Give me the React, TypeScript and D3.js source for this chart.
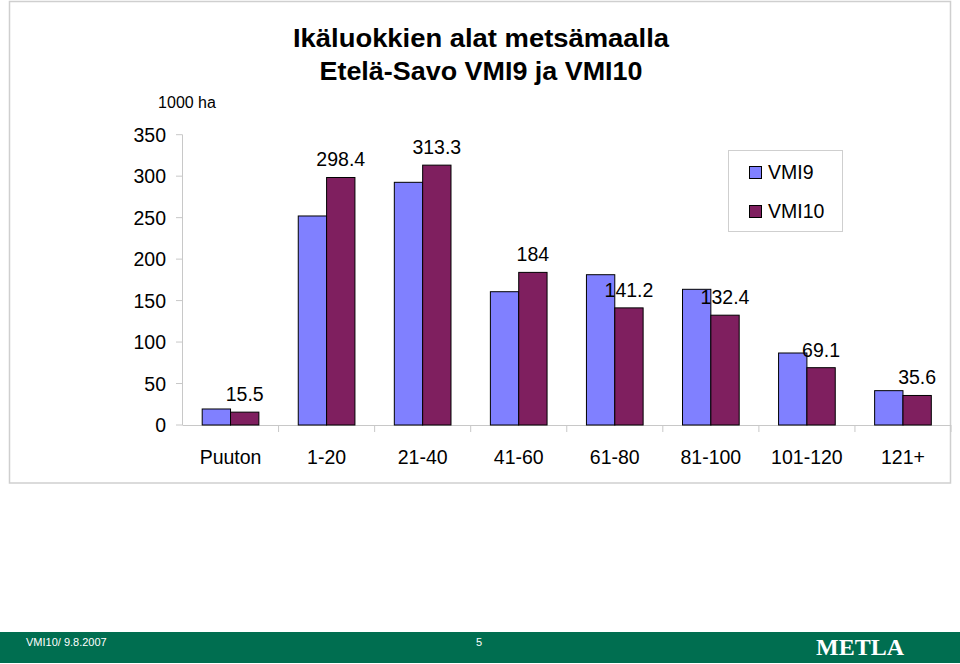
import React from "react";
import * as d3 from "d3";

const categories = ["Puuton", "1-20", "21-40", "41-60", "61-80", "81-100", "101-120", "121+"];
const vmi9 = [19.3, 252, 292.6, 160.7, 181.2, 163.6, 86.8, 41.4];
const vmi10 = [15.5, 298.4, 313.3, 184, 141.2, 132.4, 69.1, 35.6];
const seriesNames = ["VMI9", "VMI10"];
const seriesColors = ["#8080ff", "#7f1f5f"];
const yTicks = [0, 50, 100, 150, 200, 250, 300, 350];

const W = 960;
const H = 664;
const font = "Liberation Sans, Arial, sans-serif";

export default function App() {
  const x0 = d3.scaleBand<string>().domain(categories).range([182.5, 951]).paddingInner(0.41).paddingOuter(0.205);
  const x1 = d3.scaleBand<string>().domain(seriesNames).range([0, x0.bandwidth()]);
  const y = d3.scaleLinear().domain([0, 350]).range([425, 134.7]);
  const series = [vmi9, vmi10];

  return (
    <svg width={W} height={H} style={{ position: "absolute", left: 0, top: 0, background: "#fff" }}>
      <rect x={0} y={0} width={W} height={H} fill="#fff" />
      <rect x={9.5} y={1.5} width={941} height={481.5} fill="none" stroke="#cfcfcf" strokeWidth={1.5} />
      <text x={481} y={47} textAnchor="middle" fontFamily={font} fontWeight="bold" fontSize={26} textLength={376} lengthAdjust="spacingAndGlyphs">
        Ikäluokkien alat metsämaalla
      </text>
      <text x={481} y={80} textAnchor="middle" fontFamily={font} fontWeight="bold" fontSize={26} textLength={323} lengthAdjust="spacingAndGlyphs">
        Etelä-Savo VMI9 ja VMI10
      </text>
      <text x={187} y={108} textAnchor="middle" fontFamily={font} fontSize={16}>1000 ha</text>

      {/* y axis */}
      <line x1={182.5} x2={182.5} y1={134.7} y2={425} stroke="#c8c8c8" strokeWidth={1} />
      {yTicks.map((t) => (
        <g key={t}>
          <line x1={176} x2={182.5} y1={y(t)} y2={y(t)} stroke="#c8c8c8" />
          <text x={166} y={y(t) + 7} textAnchor="end" fontFamily={font} fontSize={19.5}>{t}</text>
        </g>
      ))}
      {/* x axis */}
      <line x1={182.5} x2={951} y1={425.5} y2={425.5} stroke="#c8c8c8" />
      {categories.map((c, i) => {
        const step = x0.step();
        const xt = 182.5 + step * (i + 1);
        return <line key={"t" + c} x1={xt} x2={xt} y1={425} y2={432} stroke="#c8c8c8" />;
      })}

      {categories.map((c, i) => (
        <g key={c}>
          {series.map((s, j) => (
            <rect
              key={j}
              x={(x0(c) as number) + (x1(seriesNames[j]) as number)}
              y={y(s[i])}
              width={x1.bandwidth()}
              height={y(0) - y(s[i])}
              fill={seriesColors[j]}
              stroke="#000"
              strokeWidth={1}
            />
          ))}
          <text
            x={(x0(c) as number) + (x1("VMI10") as number) + x1.bandwidth() / 2}
            y={y(vmi10[i]) - 11}
            textAnchor="middle"
            fontFamily={font}
            fontSize={19.5}
          >
            {vmi10[i]}
          </text>
          <text
            x={(x0(c) as number) + x0.bandwidth() / 2}
            y={464}
            textAnchor="middle"
            fontFamily={font}
            fontSize={19.5}
          >
            {c}
          </text>
        </g>
      ))}

      {/* legend */}
      <rect x={728.5} y={150.5} width={114} height={81} fill="#fff" stroke="#cfcfcf" />
      {seriesNames.map((n, j) => (
        <g key={n}>
          <rect x={749.5} y={166.5 + j * 39} width={12} height={12} fill={seriesColors[j]} stroke="#000" />
          <text x={768} y={179 + j * 39} fontFamily={font} fontSize={19.5}>{n}</text>
        </g>
      ))}

      {/* footer */}
      <rect x={0} y={632} width={W} height={31} fill="#006e50" />
      <text x={26} y={646} fontFamily={font} fontSize={11} fill="#fff">VMI10/ 9.8.2007</text>
      <text x={476} y={646} fontFamily={font} fontSize={11} fill="#fff">5</text>
      <text x={816} y={655} fontFamily="Liberation Serif, Times New Roman, serif" fontWeight="bold" fontSize={24} fill="#fff" textLength={88} lengthAdjust="spacingAndGlyphs">METLA</text>
    </svg>
  );
}
